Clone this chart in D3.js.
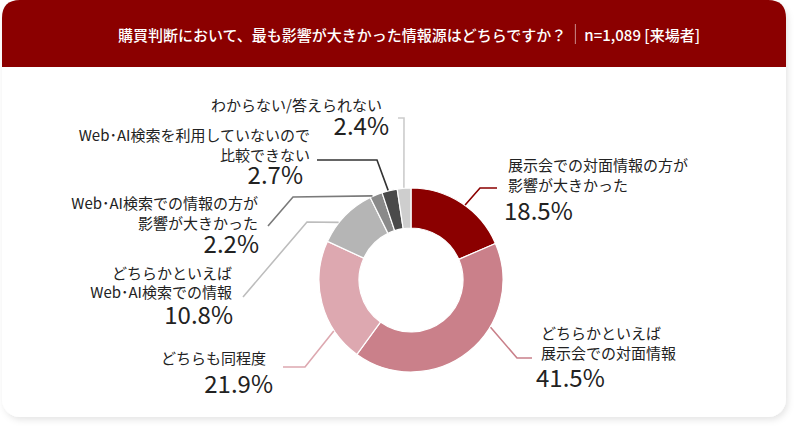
<!DOCTYPE html>
<html><head><meta charset="utf-8">
<script src="https://cdn.jsdelivr.net/npm/d3@7/dist/d3.min.js"></script>
<style>html,body{margin:0;padding:0;background:#fff;}svg{display:block;}</style>
</head><body>
<svg id="chart" width="800" height="429"></svg>
<script>
// ---- data ----
const title = "購買判断において、最も影響が大きかった情報源はどちらですか？";
const sampleNote = "n=1,089 [来場者]";
const categories = [
  ["展示会での対面情報の方が", "影響が大きかった"],
  ["どちらかといえば", "展示会での対面情報"],
  ["どちらも同程度"],
  ["どちらかといえば", "Web･AI検索での情報"],
  ["Web･AI検索での情報の方が", "影響が大きかった"],
  ["Web･AI検索を利用していないので", "比較できない"],
  ["わからない/答えられない"]
];
const values = [18.5, 41.5, 21.9, 10.8, 2.2, 2.7, 2.4];
const colors = ["#8B0000", "#CA808A", "#DDA8B0", "#B5B5B5", "#8A8A8A", "#4A4A4A", "#CECECE"];
const lineColors = ["#8B0000", "#C9808A", "#DDA8B0", "#BDBDBD", "#7A7A7A", "#333333", "#CCCCCC"];

// ---- layout (label placement) ----
const cx = 411, cy = 280, rOuter = 92, rInner = 52;
const layout = [
  {a: 35.8, elbow: [480, 188], end: [497, 188], anchor: "start", tx: 508, ty: [164, 184], px: 504, py: 209},
  {a: 120.7, elbow: [517, 358], end: [532, 358], anchor: "start", tx: 541, ty: [332, 352], px: 536, py: 376},
  {a: 236.6, elbow: [305, 367], end: [283, 367], anchor: "end", tx: 266, ty: [357], px: 273, py: 382},
  {a: 308.5, elbow: [307, 222], end: [243, 297], anchor: "end", tx: 232, ty: [272, 291], px: 233, py: 313},
  {a: 335.4, elbow: [293, 197], end: [268, 226], anchor: "end", tx: 258, ty: [202, 222], px: 259, py: 242},
  {a: 345.7, elbow: [377, 160], end: [317, 160], anchor: "end", tx: 310, ty: [134, 154], px: 303, py: 173},
  {a: 355.6, elbow: [404, 118], end: [398, 118], anchor: "end", tx: 382, ty: [104], px: 389, py: 124}
];

const svg = d3.select("#chart");
const defs = svg.append("defs");
const f = defs.append("filter").attr("id", "sh").attr("x", "-5%").attr("y", "-5%").attr("width", "110%").attr("height", "115%");
f.append("feDropShadow").attr("dx", 2).attr("dy", 3).attr("stdDeviation", 3).attr("flood-color", "#000").attr("flood-opacity", 0.10);

// card
svg.append("rect").attr("x", 2).attr("y", 0).attr("width", 784).attr("height", 417)
  .attr("rx", 18).attr("fill", "#fff").attr("filter", "url(#sh)");
// header with rounded top corners
const hx = 2, hw = 784, hh = 67, hr = 18;
svg.append("path")
  .attr("d", `M${hx},${hh} L${hx},${hr} Q${hx},0 ${hx + hr},0 L${hx + hw - hr},0 Q${hx + hw},0 ${hx + hw},${hr} L${hx + hw},${hh} Z`)
  .attr("fill", "#8B0000");

const font = "'Noto Sans CJK JP', 'Noto Sans', sans-serif";
const tg = svg.append("g").attr("font-family", font).attr("font-size", 15).attr("font-weight", 500).attr("fill", "#fff");
const t1 = tg.append("text").attr("y", 34).attr("dominant-baseline", "central").text(title);
const t2 = tg.append("text").attr("y", 34).attr("dominant-baseline", "central").text(sampleNote);
const w1 = t1.node().getComputedTextLength(), w2 = t2.node().getComputedTextLength();
const gap = 9, total = w1 + gap * 2 + w2;
const x0 = 409 - total / 2;
t1.attr("x", x0);
t2.attr("x", x0 + w1 + gap * 2);
tg.append("line").attr("x1", x0 + w1 + gap).attr("x2", x0 + w1 + gap).attr("y1", 24).attr("y2", 44)
  .attr("stroke", "rgba(255,255,255,0.55)").attr("stroke-width", 1);

// donut
const pie = d3.pie().value(d => d).sort(null);
const arcs = pie(values);
const arc = d3.arc().innerRadius(rInner).outerRadius(rOuter);
const g = svg.append("g").attr("transform", `translate(${cx},${cy})`);
g.selectAll("path").data(arcs).join("path")
  .attr("d", arc).attr("fill", (d, i) => colors[i])
  .attr("stroke", "#fff").attr("stroke-width", 1.2);

// leader lines
const pt = (deg, r) => {
  const a = deg * Math.PI / 180;
  return [cx + r * Math.sin(a), cy - r * Math.cos(a)];
};
svg.append("g").selectAll("polyline").data(layout).join("polyline")
  .attr("points", d => [pt(d.a, rOuter + 0.5), d.elbow, d.end].map(p => p.join(",")).join(" "))
  .attr("fill", "none").attr("stroke", (d, i) => lineColors[i]).attr("stroke-width", 1.6);

// labels
const lg = svg.append("g").attr("font-family", font).attr("fill", "#222");
layout.forEach((L, i) => {
  categories[i].forEach((line, j) => {
    lg.append("text").attr("x", L.tx).attr("y", L.ty[j]).attr("text-anchor", L.anchor)
      .attr("dominant-baseline", "central").attr("font-size", 15).text(line);
  });
  lg.append("text").attr("x", L.px).attr("y", L.py).attr("text-anchor", L.anchor)
    .attr("dominant-baseline", "central").attr("font-size", 24).text(d3.format(".1f")(values[i]) + "%");
});
</script>
</body></html>
